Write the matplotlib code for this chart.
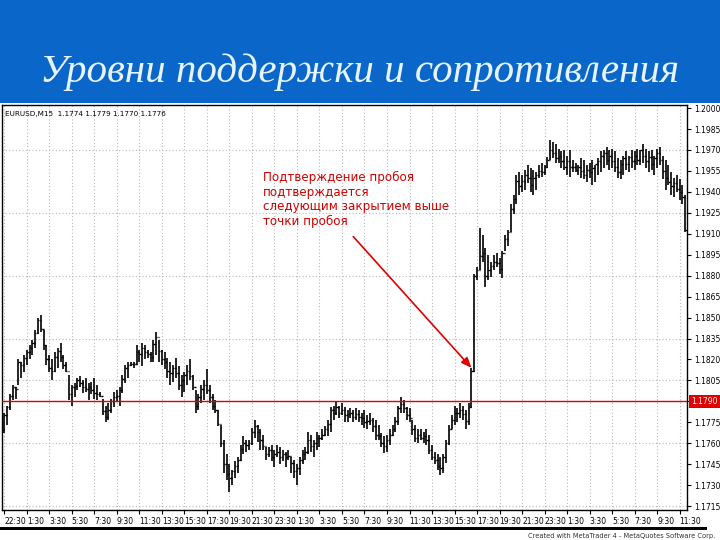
import numpy as np
import matplotlib
matplotlib.use("Agg")
import matplotlib.pyplot as plt
from matplotlib.patches import Rectangle
from matplotlib.transforms import blended_transform_factory

title = "Уровни поддержки и сопротивления"
header = "EURUSD,M15  1.1774 1.1779 1.1770 1.1776"
note = "Подтверждение пробоя\nподтверждается\nследующим закрытием выше\nточки пробоя"
level = 1.1790

highs = [
    1.1782, 1.1787, 1.1795, 1.1802, 1.1800, 1.1820, 1.1818, 1.1823, 1.1827, 1.1830,
    1.1834, 1.1841, 1.1850, 1.1852, 1.1841, 1.1830, 1.1823, 1.1820, 1.1825, 1.1828,
    1.1832, 1.1823, 1.1818, 1.1809, 1.1802, 1.1803, 1.1807, 1.1808, 1.1805, 1.1807,
    1.1803, 1.1804, 1.1807, 1.1802, 1.1797, 1.1792, 1.1787, 1.1789, 1.1792, 1.1797,
    1.1798, 1.1800, 1.1809, 1.1816, 1.1818, 1.1818, 1.1818, 1.1830, 1.1827, 1.1832,
    1.1830, 1.1827, 1.1825, 1.1834, 1.1840, 1.1834, 1.1827, 1.1825, 1.1821, 1.1818,
    1.1816, 1.1821, 1.1815, 1.1809, 1.1811, 1.1816, 1.1820, 1.1809, 1.1798, 1.1795,
    1.1802, 1.1805, 1.1813, 1.1802, 1.1795, 1.1791, 1.1784, 1.1773, 1.1762, 1.1752,
    1.1745, 1.1741, 1.1747, 1.1750, 1.1759, 1.1765, 1.1762, 1.1762, 1.1771, 1.1777,
    1.1773, 1.1770, 1.1766, 1.1757, 1.1757, 1.1759, 1.1755, 1.1759, 1.1757, 1.1755,
    1.1754, 1.1755, 1.1750, 1.1748, 1.1745, 1.1750, 1.1755, 1.1757, 1.1768, 1.1766,
    1.1762, 1.1768, 1.1766, 1.1770, 1.1772, 1.1777, 1.1786, 1.1787, 1.1790, 1.1787,
    1.1789, 1.1786, 1.1784, 1.1785, 1.1784, 1.1785, 1.1784, 1.1782, 1.1784, 1.1780,
    1.1782, 1.1778, 1.1777, 1.1773, 1.1767, 1.1765, 1.1766, 1.1770, 1.1773, 1.1779,
    1.1787, 1.1793, 1.1791, 1.1786, 1.1785, 1.1777, 1.1773, 1.1770, 1.1770, 1.1768,
    1.1770, 1.1766, 1.1759, 1.1754, 1.1752, 1.1750, 1.1752, 1.1762, 1.1773, 1.1780,
    1.1787, 1.1785, 1.1789, 1.1787, 1.1784, 1.1789, 1.1814, 1.1881, 1.1886, 1.1914,
    1.1909, 1.1900, 1.1895, 1.1890, 1.1895, 1.1896, 1.1893, 1.1898, 1.1909, 1.1913,
    1.1931, 1.1938, 1.1952, 1.1954, 1.1952, 1.1956, 1.1959, 1.1957, 1.1956, 1.1954,
    1.1959, 1.1961, 1.1959, 1.1965, 1.1977, 1.1976, 1.1974, 1.1971, 1.1969, 1.1970,
    1.1966, 1.1970, 1.1963, 1.1961, 1.1959, 1.1964, 1.1963, 1.1959, 1.1961, 1.1963,
    1.1959, 1.1964, 1.1969, 1.1970, 1.1972, 1.1970, 1.1971, 1.1969, 1.1964, 1.1963,
    1.1966, 1.1969, 1.1966, 1.1970, 1.1969, 1.1971, 1.1970, 1.1974, 1.1971, 1.1969,
    1.1970, 1.1966, 1.1971, 1.1972, 1.1966, 1.1963, 1.1959, 1.1954, 1.1950, 1.1952,
    1.1949, 1.1945, 1.1938,
]
lows = [
    1.1767, 1.1773, 1.1784, 1.1791, 1.1792, 1.1802, 1.1807, 1.1811, 1.1816, 1.1820,
    1.1823, 1.1828, 1.1838, 1.1840, 1.1827, 1.1816, 1.1811, 1.1805, 1.1811, 1.1814,
    1.1818, 1.1813, 1.1811, 1.1791, 1.1787, 1.1793, 1.1798, 1.1800, 1.1796, 1.1797,
    1.1791, 1.1795, 1.1792, 1.1791, 1.1793, 1.1780, 1.1775, 1.1777, 1.1782, 1.1786,
    1.1790, 1.1787, 1.1796, 1.1803, 1.1807, 1.1815, 1.1814, 1.1816, 1.1818, 1.1815,
    1.1820, 1.1821, 1.1818, 1.1818, 1.1823, 1.1818, 1.1816, 1.1813, 1.1807, 1.1802,
    1.1804, 1.1807, 1.1798, 1.1793, 1.1797, 1.1802, 1.1805, 1.1798, 1.1782, 1.1784,
    1.1789, 1.1791, 1.1795, 1.1789, 1.1784, 1.1782, 1.1772, 1.1757, 1.1739, 1.1734,
    1.1725, 1.1730, 1.1735, 1.1739, 1.1747, 1.1752, 1.1754, 1.1755, 1.1759, 1.1764,
    1.1761, 1.1755, 1.1755, 1.1748, 1.1750, 1.1747, 1.1743, 1.1750, 1.1745, 1.1747,
    1.1743, 1.1748, 1.1739, 1.1735, 1.1730, 1.1737, 1.1745, 1.1748, 1.1752, 1.1754,
    1.1750, 1.1755, 1.1757, 1.1762, 1.1765, 1.1765, 1.1768, 1.1777, 1.1780, 1.1778,
    1.1780, 1.1775, 1.1775, 1.1778, 1.1775, 1.1777, 1.1775, 1.1773, 1.1771, 1.1770,
    1.1773, 1.1768, 1.1762, 1.1762, 1.1757, 1.1753, 1.1754, 1.1759, 1.1765, 1.1768,
    1.1773, 1.1782, 1.1782, 1.1777, 1.1775, 1.1766, 1.1761, 1.1760, 1.1762, 1.1760,
    1.1759, 1.1752, 1.1748, 1.1745, 1.1741, 1.1737, 1.1739, 1.1746, 1.1759, 1.1770,
    1.1773, 1.1775, 1.1778, 1.1777, 1.1770, 1.1773, 1.1785, 1.1811, 1.1877, 1.1884,
    1.1890, 1.1872, 1.1877, 1.1879, 1.1884, 1.1886, 1.1881, 1.1878, 1.1898, 1.1901,
    1.1911, 1.1924, 1.1931, 1.1938, 1.1940, 1.1941, 1.1946, 1.1940, 1.1938, 1.1941,
    1.1950, 1.1951, 1.1952, 1.1957, 1.1963, 1.1964, 1.1961, 1.1961, 1.1957, 1.1956,
    1.1952, 1.1951, 1.1954, 1.1954, 1.1952, 1.1950, 1.1949, 1.1947, 1.1950, 1.1945,
    1.1947, 1.1952, 1.1954, 1.1957, 1.1959, 1.1956, 1.1957, 1.1954, 1.1950, 1.1949,
    1.1952, 1.1956, 1.1954, 1.1957, 1.1956, 1.1959, 1.1959, 1.1961, 1.1957, 1.1954,
    1.1956, 1.1952, 1.1957, 1.1959, 1.1949, 1.1941, 1.1945, 1.1938, 1.1936, 1.1940,
    1.1934, 1.1931, 1.1911,
]
closes = [
    1.1780, 1.1786, 1.1794, 1.1800, 1.1799, 1.1818, 1.1816, 1.1821, 1.1825, 1.1828,
    1.1832, 1.1839, 1.1848, 1.1842, 1.1830, 1.1820, 1.1814, 1.1812, 1.1822, 1.1826,
    1.1822, 1.1816, 1.1812, 1.1795, 1.1800, 1.1801, 1.1805, 1.1803, 1.1800, 1.1799,
    1.1800, 1.1798, 1.1796, 1.1795, 1.1794, 1.1783, 1.1779, 1.1784, 1.1790, 1.1793,
    1.1794, 1.1798, 1.1806, 1.1814, 1.1816, 1.1817, 1.1817, 1.1825, 1.1824, 1.1828,
    1.1825, 1.1824, 1.1822, 1.1831, 1.1836, 1.1826, 1.1820, 1.1818, 1.1812, 1.1810,
    1.1814, 1.1810, 1.1802, 1.1805, 1.1809, 1.1812, 1.1808, 1.1800, 1.1787, 1.1793,
    1.1799, 1.1802, 1.1798, 1.1793, 1.1787, 1.1784, 1.1774, 1.1760, 1.1745, 1.1738,
    1.1735, 1.1740, 1.1744, 1.1748, 1.1756, 1.1760, 1.1759, 1.1760, 1.1768, 1.1772,
    1.1768, 1.1762, 1.1758, 1.1752, 1.1755, 1.1750, 1.1752, 1.1754, 1.1750, 1.1752,
    1.1750, 1.1751, 1.1746, 1.1740, 1.1742, 1.1748, 1.1752, 1.1754, 1.1762, 1.1758,
    1.1760, 1.1764, 1.1764, 1.1766, 1.1770, 1.1774, 1.1784, 1.1782, 1.1786, 1.1782,
    1.1784, 1.1780, 1.1781, 1.1782, 1.1779, 1.1781, 1.1779, 1.1778, 1.1775, 1.1776,
    1.1777, 1.1772, 1.1766, 1.1765, 1.1760, 1.1758, 1.1762, 1.1766, 1.1770, 1.1776,
    1.1785, 1.1788, 1.1785, 1.1780, 1.1778, 1.1770, 1.1764, 1.1766, 1.1764, 1.1765,
    1.1762, 1.1755, 1.1750, 1.1748, 1.1744, 1.1742, 1.1750, 1.1760, 1.1770, 1.1777,
    1.1782, 1.1782, 1.1784, 1.1781, 1.1776, 1.1786, 1.1812, 1.1880, 1.1884, 1.1894,
    1.1896, 1.1880, 1.1884, 1.1887, 1.1890, 1.1889, 1.1885, 1.1896, 1.1906, 1.1911,
    1.1928, 1.1935, 1.1948, 1.1944, 1.1948, 1.1952, 1.1950, 1.1945, 1.1950, 1.1952,
    1.1955, 1.1954, 1.1958, 1.1963, 1.1970, 1.1968, 1.1964, 1.1966, 1.1962, 1.1958,
    1.1962, 1.1958, 1.1958, 1.1956, 1.1958, 1.1955, 1.1952, 1.1956, 1.1954, 1.1957,
    1.1960, 1.1962, 1.1966, 1.1968, 1.1963, 1.1966, 1.1962, 1.1958, 1.1954, 1.1960,
    1.1964, 1.1960, 1.1965, 1.1962, 1.1966, 1.1963, 1.1970, 1.1966, 1.1962, 1.1965,
    1.1960, 1.1964, 1.1968, 1.1963, 1.1955, 1.1950, 1.1947, 1.1944, 1.1946, 1.1942,
    1.1940, 1.1936, 1.1913,
]
first_open = 1.1770

time_labels = ["22:30", "1:30", "3:30", "5:30", "7:30", "9:30", "11:30", "13:30",
               "15:30", "17:30", "19:30", "21:30", "23:30", "1:30", "3:30", "5:30",
               "7:30", "9:30", "11:30", "13:30", "15:30", "17:30", "19:30", "21:30",
               "23:30", "1:30", "3:30", "5:30", "7:30", "9:30", "11:30"]
price_ticks = [1.1715, 1.1730, 1.1745, 1.1760, 1.1775, 1.1790, 1.1805, 1.1820,
               1.1835, 1.1850, 1.1865, 1.1880, 1.1895, 1.1910, 1.1925, 1.1940,
               1.1955, 1.1970, 1.1985, 1.2000]
grid_prices = [1.1715, 1.1760, 1.1805, 1.1835, 1.1880, 1.1925, 1.1970]

n = len(highs)
assert len(lows) == n and len(closes) == n
x = np.arange(n)
opens = [first_open] + closes[:-1]

fig = plt.figure(figsize=(7.2, 5.4), dpi=100)
fig.patch.set_facecolor("white")

# blue title band
fig.add_artist(Rectangle((0, 1 - 103 / 540), 1, 103 / 540, transform=fig.transFigure,
                         facecolor="#0a66c8", edgecolor="none"))
fig.text(0.5, 1 - 82 / 540, title, ha="center", va="baseline", color="#e6f4ff",
         fontsize=29.5, style="italic", family=["Liberation Serif", "DejaVu Serif"])

ax = fig.add_axes([2 / 720, 30 / 540, 685 / 720, 405 / 540])
ax.set_xlim(-0.8, n - 0.4)
ax.set_ylim(1.17122, 1.20022)

for g in grid_prices:
    ax.axhline(g, color="#b8b8b8", lw=0.8, ls=(0, (1, 2)), zorder=0)
tick_pos = np.arange(0, n, 8)[:len(time_labels)]
for t in tick_pos:
    ax.axvline(t, color="#b8b8b8", lw=0.8, ls=(0, (1, 2)), zorder=0)

ax.vlines(x, lows, highs, color="black", lw=1.2, zorder=2)
ax.hlines(opens, x - 0.45, x, color="black", lw=1.0, zorder=2)
ax.hlines(closes, x, x + 0.45, color="black", lw=1.0, zorder=2)

ax.axhline(level, color="#e00000", lw=1.0, zorder=3)

ax.yaxis.tick_right()
ax.set_yticks(price_ticks)
ax.set_yticklabels(["" if abs(p - level) < 1e-6 else "%.4f" % p for p in price_ticks])
ax.tick_params(axis="y", labelsize=5.5, length=3, pad=2, width=0.8)
ax.set_xticks(tick_pos)
ax.set_xticklabels(time_labels)
for lab in ax.get_xticklabels():
    lab.set_horizontalalignment("left")
ax.tick_params(axis="x", labelsize=5.5, length=3, pad=2, width=0.8)
for s in ax.spines.values():
    s.set_color("black")
    s.set_linewidth(1.0)

trans = blended_transform_factory(ax.transAxes, ax.transData)
ax.text(1.006, level, "%.4f" % level, transform=trans, ha="left", va="center",
        fontsize=5.5, color="white", clip_on=False, zorder=5,
        bbox=dict(boxstyle="square,pad=0.3", facecolor="#e00000", edgecolor="none"))

ax.text(0.004, 0.985, header, transform=ax.transAxes, ha="left", va="top",
        fontsize=5.2, color="black")

ax.text(92, 1.1955, note, ha="left", va="top", fontsize=8.6, color="#d00000",
        linespacing=1.15, family=["DejaVu Sans"])
ax.annotate("", xy=(166, highs[166]), xytext=(124, 1.1908),
            arrowprops=dict(arrowstyle="-|>,head_length=0.6,head_width=0.25",
                            color="#e00000", lw=1.2, shrinkA=0, shrinkB=0), zorder=4)

# bottom strip and footer
fig.add_artist(Rectangle((0, 10 / 540), 707 / 720, 3 / 540, transform=fig.transFigure,
                         facecolor="black", edgecolor="none"))
fig.text(715 / 720, 1 / 540, "Created with MetaTrader 4 - MetaQuotes Software Corp.",
         ha="right", va="bottom", fontsize=4.8, color="#333333")

fig.savefig("out.png", dpi=100)
